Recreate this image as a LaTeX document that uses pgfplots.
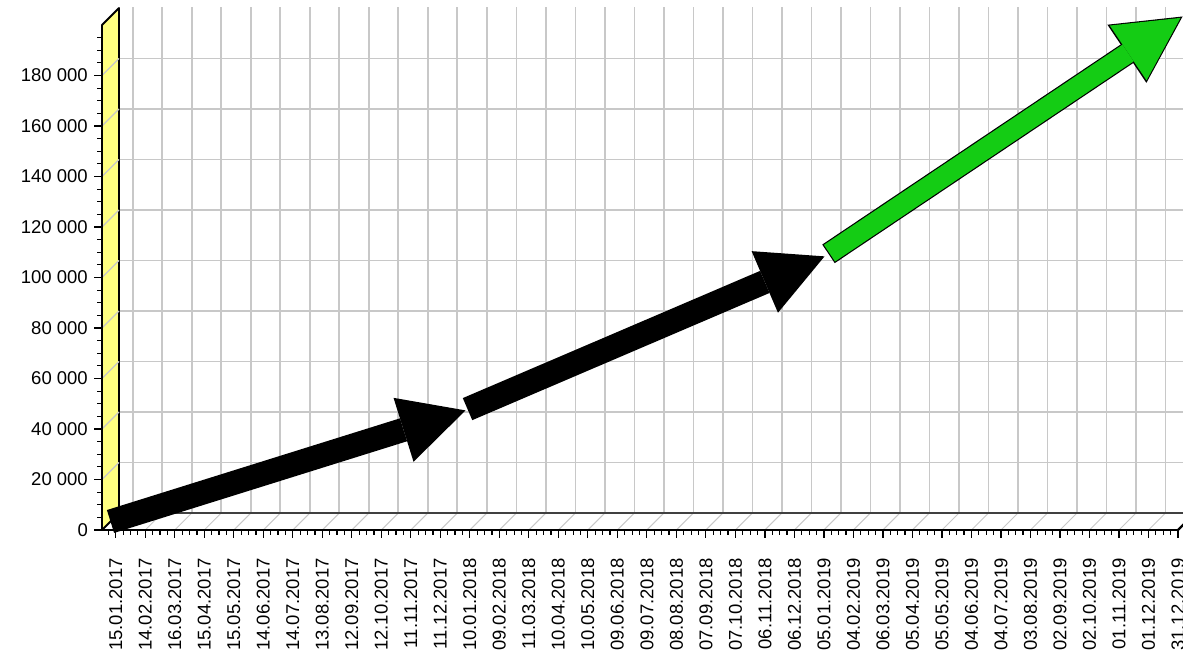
\documentclass[border=0pt]{standalone}
\usepackage{fontspec}
\setmainfont{Liberation Sans}
\usepackage{pgfplots}
\pgfplotsset{compat=1.18}
\usetikzlibrary{arrows.meta}
\definecolor{wallyellow}{RGB}{255,255,128}
\definecolor{gridgray}{RGB}{200,200,200}
\definecolor{arrowgreen}{RGB}{20,204,20}
\definecolor{flooredge}{RGB}{64,64,64}

\begin{document}
\begin{tikzpicture}
% pseudo-3D back wall, floor and side wall (depth offset 17pt)
\begin{scope}[x=1pt,y=1pt]
  \foreach \k in {0,...,36}{
    \pgfmathsetmacro\xb{132.77+29.5065*\k}
    \draw[gridgray, line width=1.7pt] (\xb,142) -- (\xb,648);
    \draw[gridgray, line width=1pt] ({\xb-17},125) -- (\xb,142);
  }
  \foreach \j in {1,...,9}{
    \pgfmathsetmacro\yf{125+50.5*\j}
    \draw[gridgray, line width=1.7pt] (119,{\yf+17}) -- (1200,{\yf+17});
  }
  \draw[flooredge, line width=2pt] (119,142) -- (1195,142);
  \draw[black, line width=2.4pt] (1178,125) -- (1195,142);
  \filldraw[fill=wallyellow, draw=black, line width=1.8pt, line join=round]
    (102,125) -- (119,142) -- (119,647) -- (102,630) -- cycle;
  \foreach \j in {1,...,9}{
    \pgfmathsetmacro\yf{125+50.5*\j}
    \draw[gridgray, line width=1.2pt] (102,\yf) -- (119,{\yf+17});
  }
\end{scope}

\begin{axis}[
  at={(102pt,125pt)}, anchor=south west,
  scale only axis, width=1076pt, height=505pt,
  xmin=-14, xmax=1080, ymin=0, ymax=200000,
  axis x line*=bottom, axis y line*=left,
  axis line style={black, line width=2.6pt},
  xtick={0,30,...,1080},
  xticklabels={15.01.2017,14.02.2017,16.03.2017,15.04.2017,15.05.2017,14.06.2017,
    14.07.2017,13.08.2017,12.09.2017,12.10.2017,11.11.2017,11.12.2017,
    10.01.2018,09.02.2018,11.03.2018,10.04.2018,10.05.2018,09.06.2018,
    09.07.2018,08.08.2018,07.09.2018,07.10.2018,06.11.2018,06.12.2018,
    05.01.2019,04.02.2019,06.03.2019,05.04.2019,05.05.2019,04.06.2019,
    04.07.2019,03.08.2019,02.09.2019,02.10.2019,01.11.2019,01.12.2019,
    31.12.2019},
  ytick={0,20000,...,180000},
  yticklabels={0,20 000,40 000,60 000,80 000,100 000,120 000,140 000,160 000,180 000},
  minor xtick={-7.5,0,...,1072.5},
  minor ytick={5000,10000,...,195000},
  tick align=outside,
  major tick length=8pt, minor tick length=5pt,
  tick style={black, line width=1.2pt},
  x tick label style={rotate=90, anchor=east},
  tick label style={font=\fontsize{18.5}{20}\selectfont, inner sep=2pt},
  xticklabel shift=18pt,
  yticklabel shift=4pt,
  /pgf/number format/assume math mode=true,
  scaled y ticks=false,
  clip=false,
]
\end{axis}

% arrows sit halfway into the depth
\begin{axis}[
  at={(110.5pt,133.5pt)}, anchor=south west,
  scale only axis, width=1076pt, height=505pt,
  xmin=-14, xmax=1080, ymin=0, ymax=200000,
  hide axis, clip=false,
]
\addplot[black, line width=24pt, no marks,
  -{Triangle[width=67pt,length=65pt,line width=0pt]}]
  coordinates {(-14,0) (347,44000)};
\addplot[black, line width=24pt, no marks,
  -{Triangle[width=67pt,length=65pt,line width=0pt]}]
  coordinates {(349,44500) (712,105000)};
\addplot[black, line width=22.4pt, no marks,
  -{Triangle[width=70pt,length=67pt,line width=0pt]}]
  coordinates {(716,106000) (1076,200000)};
\addplot[arrowgreen, line width=20pt, no marks, shorten <=1.2pt, shorten >=2.5pt,
  -{Triangle[width=66pt,length=63pt,line width=0pt]}]
  coordinates {(716,106000) (1076,200000)};
\end{axis}

\pgfresetboundingbox
\path (0pt,0pt) rectangle (1183pt,655pt);
\end{tikzpicture}
\end{document}
